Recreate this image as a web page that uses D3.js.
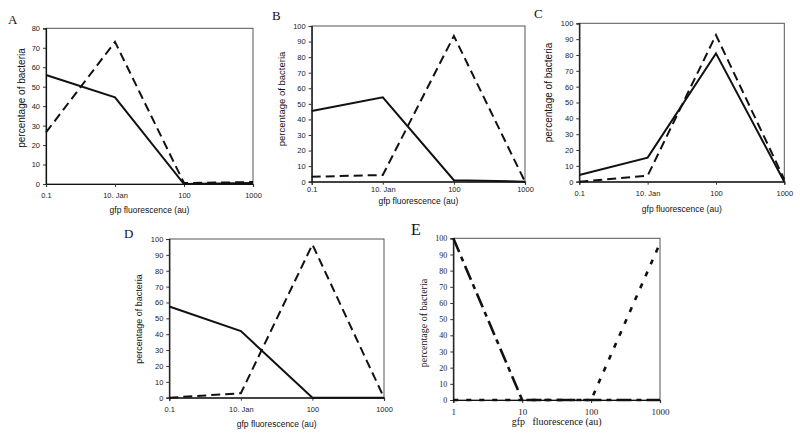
<!DOCTYPE html>
<html><head><meta charset="utf-8">
<script src="https://cdn.jsdelivr.net/npm/d3@7"></script>
<style>
html,body{margin:0;padding:0;background:#fff;}
svg{display:block;}
</style></head>
<body>
<svg id="c" width="800" height="435"></svg>
<script>
// ---- data ----
const categories = ["0.1", "10. Jan", "100", "1000"];
const aSolid  = [56, 44.5, 0, 0.5];
const aDashed = [26.5, 73, 0.5, 1];
const bSolid  = [45.4, 54.2, 1, 0];
const bDashed = [3.2, 4.3, 93.6, 0];
const cSolid  = [4.2, 15.2, 81, 0];
const cDashed = [0, 3.8, 92.6, 1.5];
const dSolid  = [57.5, 42, 0, 0];
const dDashed = [0, 2.8, 96.5, 0];
const eX = [1, 10, 100, 1000];
const eSeries1 = [100, 0, 0, 0];
const eSeries2 = [0, 0, 0, 97];
const yTicks80 = [0,10,20,30,40,50,60,70,80];
const yTicks100 = [0,10,20,30,40,50,60,70,80,90,100];
const eXTicks = [1, 10, 100, 1000];

const svg = d3.select("#c");
const sans = "'Liberation Sans', Arial, sans-serif";
const serif = "'Liberation Serif', 'Times New Roman', serif";

function panel(o) {
  const g = svg.append("g");
  let x;
  if (o.log) {
    x = d3.scaleLog().domain([1, 1000]).range([o.l, o.r]);
  } else {
    x = d3.scalePoint().domain(categories).range([o.l, o.r]);
  }
  const y = d3.scaleLinear().domain([0, o.ymax]).range([o.b, o.t]);

  // box
  g.append("rect").attr("x", o.l).attr("y", o.t)
    .attr("width", o.r - o.l).attr("height", o.b - o.t)
    .attr("fill", "none").attr("stroke", "#555").attr("stroke-width", 1);

  // y axis
  const ya = g.append("g").attr("transform", `translate(${o.l},0)`)
    .call(d3.axisLeft(y).tickValues(o.yticks).tickSize(3).tickPadding(3).tickFormat(d3.format("d")));
  ya.select(".domain").attr("stroke", "#111").attr("stroke-width", 1.2);
  ya.selectAll(".tick line").attr("stroke", "#333");
  ya.selectAll("text").attr("font-family", o.font).attr("font-size", o.tfs).attr("fill", "#1a1a1a");

  // x axis
  let xAxis = d3.axisBottom(x).tickSize(3).tickPadding(o.xpad);
  if (o.log) xAxis = xAxis.tickValues(eXTicks).tickFormat(d3.format("d"));
  const xa = g.append("g").attr("transform", `translate(0,${o.b})`).call(xAxis);
  xa.select(".domain").attr("stroke", "#111").attr("stroke-width", 1.2);
  xa.selectAll(".tick line").attr("stroke", "#333");
  xa.selectAll("text").attr("font-family", o.font).attr("font-size", o.xtfs || o.tfs).attr("fill", "#1a1a1a");

  // lines
  o.series.forEach(s => {
    const pts = s.values.map((v, i) => [o.log ? x(eX[i]) : x(categories[i]), y(v)]);
    g.append("path").attr("d", d3.line()(pts))
      .attr("fill", "none").attr("stroke", "#111")
      .attr("stroke-width", s.w)
      .attr("stroke-dasharray", s.dash || null)
      .attr("stroke-linejoin", "miter");
  });

  // titles
  g.append("text").attr("x", (o.l + o.r) / 2).attr("y", o.xty)
    .attr("text-anchor", "middle").attr("font-family", o.font)
    .attr("font-size", o.xfs).attr("fill", "#111").attr("xml:space", "preserve")
    .text(o.xtitle);
  g.append("text").attr("transform", `translate(${o.ytx},${o.yty}) rotate(-90)`)
    .attr("text-anchor", "middle").attr("font-family", o.font)
    .attr("font-size", o.yfs).attr("fill", "#111")
    .text("percentage of bacteria");
  g.append("text").attr("x", o.lx).attr("y", o.ly)
    .attr("font-family", serif).attr("font-size", o.lfs).attr("fill", "#111")
    .text(o.label);
}

const solidW = 2, dashW = 2, dash = "9,5";

panel({label:"A", lx:8, ly:24, lfs:13, l:46, r:253, t:28.3, b:184, ymax:80, yticks:yTicks80,
  font:sans, tfs:7.5, xpad:6, xfs:8.5, xtitle:"gfp fluorescence (au)", xty:213,
  yfs:10, ytx:25, yty:98,
  series:[{values:aSolid, w:solidW}, {values:aDashed, w:dashW, dash:dash}]});

panel({label:"B", lx:272, ly:20, lfs:13, l:311.7, r:525, t:26, b:181.7, ymax:100, yticks:yTicks100,
  font:sans, tfs:7.5, xpad:2, xfs:8.5, xtitle:"gfp fluorescence (au)", xty:203.5,
  yfs:9.5, ytx:285, yty:99,
  series:[{values:bSolid, w:solidW}, {values:bDashed, w:dashW, dash:dash}]});

panel({label:"C", lx:534, ly:18, lfs:13, l:579.3, r:784.3, t:23.3, b:181.7, ymax:100, yticks:yTicks100,
  font:sans, tfs:7.5, xpad:6, xfs:8.5, xtitle:"gfp fluorescence (au)", xty:212,
  yfs:10, ytx:552, yty:92.5,
  series:[{values:cSolid, w:solidW}, {values:cDashed, w:dashW, dash:dash}]});

panel({label:"D", lx:124, ly:238, lfs:13, l:169.3, r:384, t:239, b:397.7, ymax:100, yticks:yTicks100,
  font:sans, tfs:7.5, xpad:6, xfs:8.5, xtitle:"gfp fluorescence (au)", xty:427,
  yfs:9, ytx:142, yty:319,
  series:[{values:dSolid, w:solidW}, {values:dDashed, w:dashW, dash:dash}]});

panel({label:"E", lx:411, ly:235, lfs:16, l:453.3, r:660, t:238.3, b:400, ymax:100, yticks:yTicks100, log:true,
  font:serif, tfs:8, xtfs:9, xpad:6, xfs:10, xtitle:"gfp   fluorescence (au)", xty:425,
  yfs:10, ytx:427, yty:323,
  series:[{values:eSeries1, w:2.6, dash:"15,5,5,5"}, {values:eSeries2, w:2.6, dash:"5,8"}]});
</script>
</body></html>
